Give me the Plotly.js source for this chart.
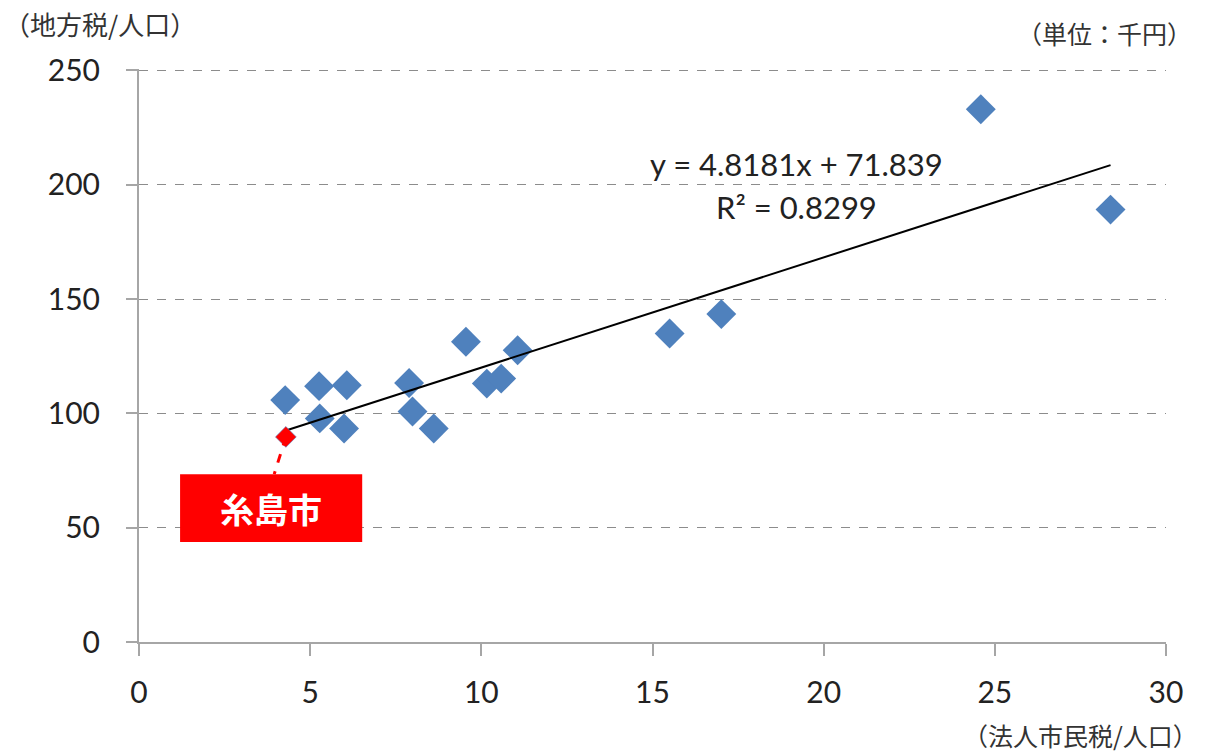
<!DOCTYPE html>
<html>
<head>
<meta charset="utf-8">
<script src="https://cdn.plot.ly/plotly-3.0.1.min.js"></script>
<style>html,body{margin:0;padding:0;background:#fff;}#chart{width:1205px;height:754px;}</style>
</head>
<body>
<div id="chart"></div>
<script>
// Per-capita corporate municipal tax (thousand yen) vs per-capita local tax (thousand yen)
const cityX = [4.27, 5.26, 5.28, 6.07, 5.99, 7.89, 7.99, 8.61, 9.55, 10.16, 10.58, 11.06, 15.50, 17.01, 24.59, 28.38];
const cityY = [105.8, 111.9, 97.8, 112.3, 93.4, 113.3, 100.8, 93.4, 131.3, 113.0, 115.2, 127.6, 134.9, 143.4, 233.0, 189.1];
const itoshimaX = [4.29];
const itoshimaY = [89.7];
const itoshimaName = '糸島市';
const slope = 4.8181;
const intercept = 71.839;
const rSquared = 0.8299;
const xTicks = [0, 5, 10, 15, 20, 25, 30];
const yTicks = [0, 50, 100, 150, 200, 250];
const yTitle = '（地方税/人口）';
const xTitle = '（法人市民税/人口）';
const unitText = '（単位：千円）';

const allX = cityX.concat(itoshimaX);
const xMin = Math.min(...allX), xMax = Math.max(...allX);
const trendX = [xMin, xMax];
const trendY = trendX.map(v => slope * v + intercept);

const numFont = 'Lato, "Open Sans", sans-serif';
const cjkFont = '"Noto Sans CJK JP", sans-serif';

const traces = [
  {x: cityX, y: cityY, type: 'scatter', mode: 'markers',
   marker: {symbol: 'diamond', size: 23, color: '#4F81BD'}, hoverinfo: 'x+y'},
  {x: trendX, y: trendY, type: 'scatter', mode: 'lines',
   line: {color: '#000000', width: 2}, hoverinfo: 'skip'},
  {x: itoshimaX, y: itoshimaY, type: 'scatter', mode: 'markers',
   marker: {symbol: 'diamond', size: 16, color: '#FF0000', line: {color: '#4F81BD', width: 0.6}}, hoverinfo: 'x+y'}
];

// label box placement relative to the Itoshima point (data units)
const boxX0 = itoshimaX[0] - 3.09, boxX1 = itoshimaX[0] + 2.23;
const boxY0 = itoshimaY[0] - 46.0, boxY1 = itoshimaY[0] - 16.3;

const yTop = 250.6;

const layout = {
  width: 1205, height: 754,
  margin: {l: 139, r: 39, t: 69, b: 112},
  paper_bgcolor: '#ffffff', plot_bgcolor: '#ffffff',
  showlegend: false,
  xaxis: {
    range: [0, 30], tickvals: xTicks, ticktext: xTicks.map(String),
    showgrid: false, zeroline: false,
    showline: true, linecolor: '#A6A6A6', linewidth: 2,
    ticks: 'outside', ticklen: 12, tickwidth: 2, tickcolor: '#A6A6A6',
    ticklabelstandoff: 11,
    tickfont: {family: numFont, size: 30, color: '#222222'}
  },
  yaxis: {
    range: [0, yTop], tickvals: yTicks, ticktext: yTicks.map(String),
    showgrid: true, gridcolor: '#8C8C8C', griddash: 'dash', gridwidth: 1.2,
    zeroline: false,
    showline: true, linecolor: '#A6A6A6', linewidth: 2,
    ticks: 'outside', ticklen: 11, tickwidth: 2, tickcolor: '#A6A6A6',
    ticklabelstandoff: 20,
    tickfont: {family: numFont, size: 30, color: '#222222'}
  },
  shapes: [
    {type: 'line', xref: 'x', yref: 'y',
     x0: itoshimaX[0], y0: itoshimaY[0], x1: itoshimaX[0] - 0.34, y1: boxY1,
     line: {color: '#FF0000', width: 3, dash: 'dash'}},
    {type: 'rect', xref: 'x', yref: 'y', x0: boxX0, x1: boxX1, y0: boxY0, y1: boxY1,
     fillcolor: '#FF0000', line: {width: 0}}
  ],
  annotations: [
    {xref: 'x', yref: 'y', x: (boxX0 + boxX1) / 2, y: (boxY0 + boxY1) / 2,
     text: '<b>' + itoshimaName + '</b>', showarrow: false,
     font: {family: cjkFont, size: 34, color: '#ffffff'}},
    {xref: 'paper', yref: 'paper', x: 0.640, y: 0.834, xanchor: 'center', yanchor: 'middle',
     text: 'y = ' + slope + 'x + ' + intercept, showarrow: false,
     font: {family: numFont, size: 31, color: '#222222'}},
    {xref: 'paper', yref: 'paper', x: 0.640, y: 0.759, xanchor: 'center', yanchor: 'middle',
     text: 'R² = ' + rSquared, showarrow: false,
     font: {family: numFont, size: 31, color: '#222222'}},
    {xref: 'paper', yref: 'paper', x: -0.133, y: 1.08, xanchor: 'left', yanchor: 'middle',
     text: yTitle, showarrow: false,
     font: {family: cjkFont, size: 26, color: '#333333'}},
    {xref: 'paper', yref: 'paper', x: 1.027, y: 1.063, xanchor: 'right', yanchor: 'middle',
     text: unitText, showarrow: false,
     font: {family: cjkFont, size: 25, color: '#333333'}},
    {xref: 'paper', yref: 'paper', x: 1.033, y: -0.162, xanchor: 'right', yanchor: 'middle',
     text: xTitle, showarrow: false,
     font: {family: cjkFont, size: 25, color: '#333333'}}
  ]
};

Plotly.newPlot('chart', traces, layout, {displayModeBar: false});
</script>
</body>
</html>
